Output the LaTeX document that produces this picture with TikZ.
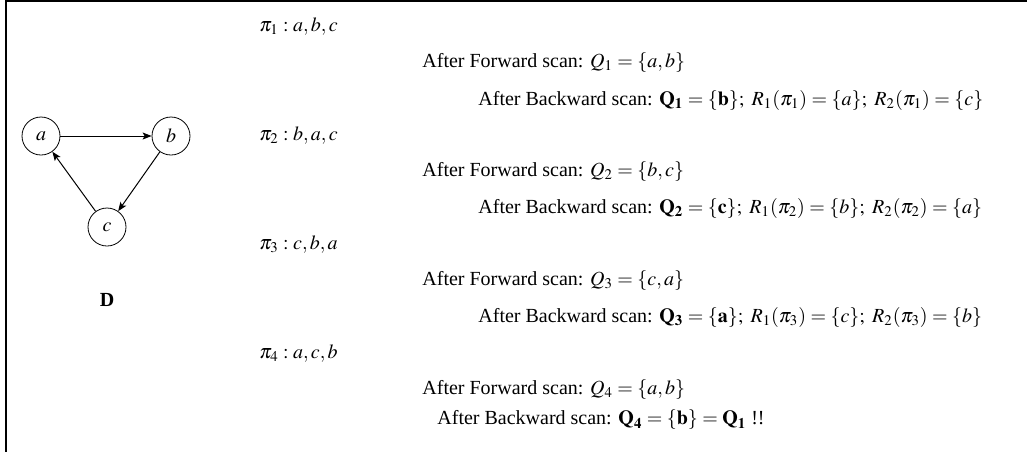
\documentclass[tikz,border=0pt]{standalone}
\usepackage{mathptmx}
\usepackage{fontspec}
\setmainfont{Liberation Serif}
\usetikzlibrary{arrows.meta}
\begin{document}
\begin{tikzpicture}[x=0.5pt,y=-0.5pt,
  vtx/.style={draw,circle,inner sep=0pt,minimum size=19pt},
  edge/.style={-{Stealth[length=4.5pt,width=3.5pt,inset=1pt]},line width=0.5pt},
  row/.style={anchor=west,inner sep=0pt},
  frame/.style={line width=0.8pt}]
\useasboundingbox (0,0) rectangle (1027,452);
\draw[frame] (5,1) -- (1027,1);
\draw[frame] (6,1) -- (6,452);
\node[vtx] (a) at (41,136) {$a$};
\node[vtx] (b) at (171,136) {$b$};
\node[vtx] (c) at (107,227) {$c$};
\node[font=\bfseries] (D) at (107,300) {D};
\draw[edge] (a) -- (b);
\draw[edge] (b) -- (c);
\draw[edge] (c) -- (a);
\node[row] (p1) at (259,27) {$\pi_1 : a,b,c$};
\node[row] (f1) at (422,63) {After Forward scan: $Q_1=\{a,b\}$};
\node[row] (b1) at (478,100) {After Backward scan: $\mathbf{Q_1}=\{\mathbf{b}\};\ R_1(\pi_1)=\{a\};\ R_2(\pi_1)=\{c\}$};
\node[row] (p2) at (259,136) {$\pi_2 : b,a,c$};
\node[row] (f2) at (422,172) {After Forward scan: $Q_2=\{b,c\}$};
\node[row] (b2) at (478,208) {After Backward scan: $\mathbf{Q_2}=\{\mathbf{c}\};\ R_1(\pi_2)=\{b\};\ R_2(\pi_2)=\{a\}$};
\node[row] (p3) at (259,245) {$\pi_3 : c,b,a$};
\node[row] (f3) at (422,281) {After Forward scan: $Q_3=\{c,a\}$};
\node[row] (b3) at (478,317) {After Backward scan: $\mathbf{Q_3}=\{\mathbf{a}\};\ R_1(\pi_3)=\{c\};\ R_2(\pi_3)=\{b\}$};
\node[row] (p4) at (259,354) {$\pi_4 : a,c,b$};
\node[row] (f4) at (422,390) {After Forward scan: $Q_4=\{a,b\}$};
\node[row] (b4) at (437,420) {After Backward scan: $\mathbf{Q_4}=\{\mathbf{b}\}=\mathbf{Q_1}$ !!};
\end{tikzpicture}
\end{document}
